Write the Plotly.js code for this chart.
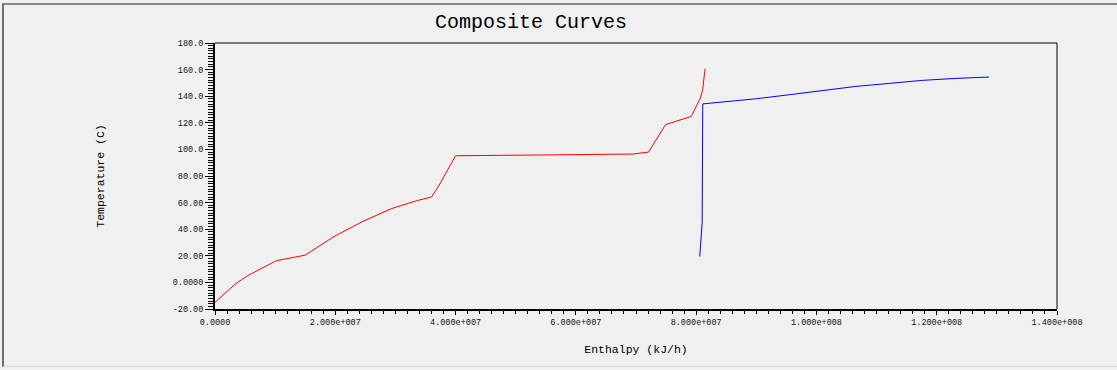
<!DOCTYPE html>
<html>
<head>
<meta charset="utf-8">
<script src="https://cdn.plot.ly/plotly-3.0.1.min.js"></script>
<style>
  html, body { margin: 0; padding: 0; background: #f0f0f0; }
  #wrap { position: relative; width: 1117px; height: 370px; overflow: hidden; }
  #chart { position: absolute; left: 0; top: 0; width: 1117px; height: 370px; }
  #frame { position: absolute; left: 2px; top: 3px; width: 1115px; height: 364px;
           border-top: 2px solid #8a8a8a; border-left: 2px solid #6e6e6e;
           border-bottom: 1px solid #dadada; box-sizing: border-box; pointer-events: none; }
</style>
</head>
<body>
<div id="wrap">
  <div id="chart"></div>
  <div id="frame"></div>
</div>
<script>
// Red composite curve (enthalpy kJ/h, temperature C)
const redEnthalpy = [0, 3.3e6, 5.4e6, 10.2e6, 15.0e6, 19.8e6, 24.6e6, 29.3e6, 33.5e6, 36.0e6, 37.2e6, 40.0e6,
                     69.5e6, 71.1e6, 72.1e6, 74.9e6, 77.2e6, 79.2e6, 80.7e6, 81.1e6, 81.3e6, 81.5e6];
const redTemp = [-15, -1.5, 5.0, 16.3, 20.5, 34.5, 45.9, 55.4, 61.4, 64.2, 72.5, 95.2,
                 96.5, 97.3, 98.0, 118.6, 122.1, 124.8, 138.6, 144.9, 153.7, 160.7];

// Blue composite curve
const blueEnthalpy = [80.6e6, 80.7e6, 80.8e6, 81.0e6, 81.1e6, 84.4e6, 90.0e6, 95.5e6, 101.0e6,
                      106.6e6, 112.1e6, 117.6e6, 123.2e6, 128.7e6];
const blueTemp = [19.5, 24.6, 34.1, 45.0, 134.2, 135.6, 138.1, 141.1, 144.4,
                  147.4, 149.6, 151.9, 153.4, 154.4];

// Tick values and labels
const xTickVals = [0, 2e7, 4e7, 6e7, 8e7, 1e8, 1.2e8, 1.4e8];
const xTickText = ["0.0000", "2.000e+007", "4.000e+007", "6.000e+007", "8.000e+007", "1.000e+008", "1.200e+008", "1.400e+008"];
const yTickVals = [-20, 0, 20, 40, 60, 80, 100, 120, 140, 160, 180];
const yTickText = ["-20.00", "0.0000", "20.00", "40.00", "60.00", "80.00", "100.0", "120.0", "140.0", "160.0", "180.0"];

const tickFont = { family: "Liberation Mono, monospace", size: 8.5, color: "#111" };
const titleFont = { family: "Liberation Mono, monospace", size: 11.5, color: "#000" };

const traces = [
  { x: redEnthalpy, y: redTemp, type: "scatter", mode: "lines",
    line: { color: "#ff0000", width: 1 }, hoverinfo: "skip" },
  { x: blueEnthalpy, y: blueTemp, type: "scatter", mode: "lines",
    line: { color: "#0000ff", width: 1 }, hoverinfo: "skip" }
];

const layout = {
  width: 1117, height: 370,
  paper_bgcolor: "#f0f0f0", plot_bgcolor: "#f0f0f0",
  margin: { l: 215, r: 60, t: 43, b: 61, pad: 0 },
  showlegend: false,
  title: { text: "Composite Curves", font: { family: "Liberation Mono, monospace", size: 20, color: "#000" },
           x: 531 / 1117, xref: "container", xanchor: "center",
           y: 1 - 21 / 370, yref: "container", yanchor: "middle" },
  xaxis: {
    range: [0, 1.4e8], tickvals: xTickVals, ticktext: xTickText, tickfont: tickFont,
    showgrid: false, zeroline: false, showline: true, linecolor: "#000", linewidth: 2,
    ticks: "outside", ticklen: 4, tickwidth: 1, tickcolor: "#000",
    minor: { dtick: 2e6, ticks: "outside", ticklen: 3, tickwidth: 1, tickcolor: "#000", showgrid: false },
    title: { text: "Enthalpy (kJ/h)", font: titleFont, standoff: 18 },
    automargin: false, fixedrange: true
  },
  yaxis: {
    range: [-20, 180], tickvals: yTickVals, ticktext: yTickText, tickfont: tickFont,
    showgrid: false, zeroline: false, showline: true, linecolor: "#000", linewidth: 2,
    ticks: "outside", ticklen: 8, tickwidth: 1, tickcolor: "#000",
    minor: { dtick: 2, ticks: "outside", ticklen: 5, tickwidth: 1, tickcolor: "#000", showgrid: false },
    title: { text: "Temperature (C)", font: titleFont, standoff: 66 },
    automargin: false, fixedrange: true
  },
  shapes: [
    { type: "line", xref: "paper", yref: "paper", x0: 0, x1: 1, y0: 1, y1: 1, line: { color: "#000", width: 1 } },
    { type: "line", xref: "paper", yref: "paper", x0: 1, x1: 1, y0: 0, y1: 1, line: { color: "#000", width: 1 } }
  ]
};

Plotly.newPlot("chart", traces, layout, { staticPlot: true, displayModeBar: false });
</script>
</body>
</html>
